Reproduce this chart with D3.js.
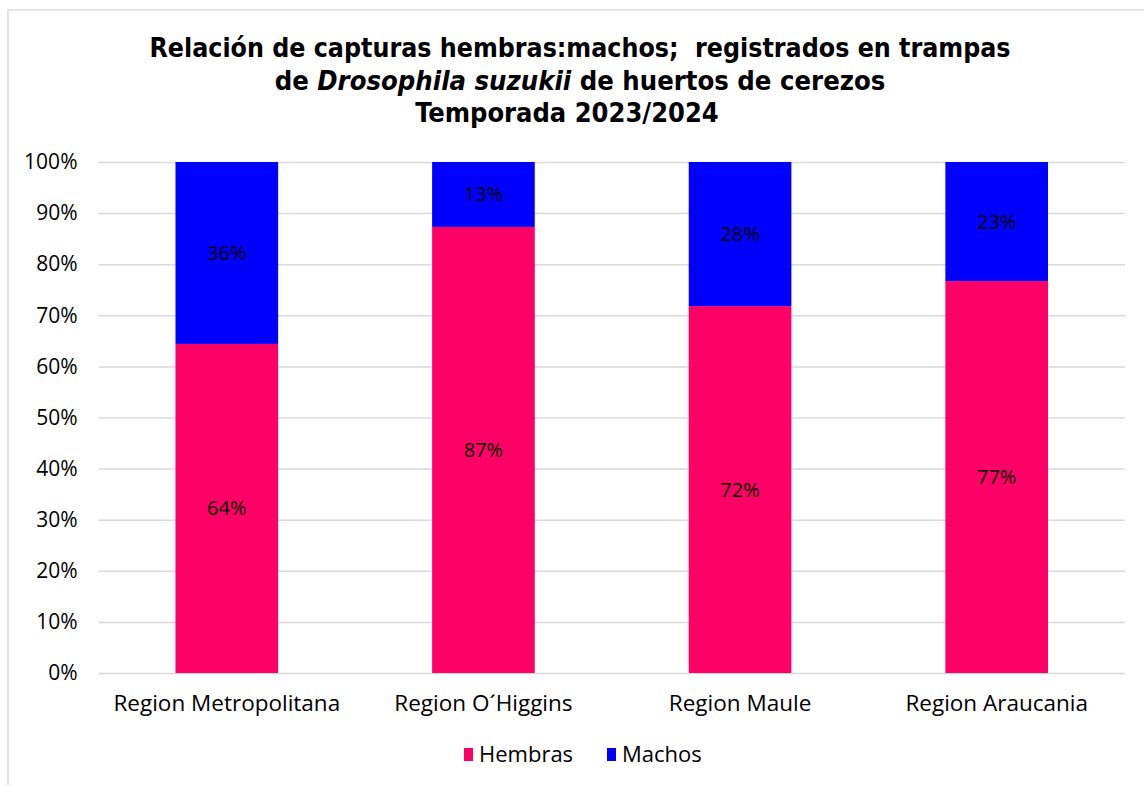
<html>
<head>
  <script src="https://d3js.org/d3.v7.min.js"></script>
  <style>
    body { margin: 0; background: #fff; }
    .title { font-family: "DejaVu Sans Condensed", "DejaVu Sans", sans-serif; font-weight: bold; fill: #000; white-space: pre; }
    .tick text, .cat, .lbl, .legend text { font-family: "Open Sans", "Noto Sans", sans-serif; fill: #000; }
    .gridlines line { stroke: #d9d9d9; stroke-width: 1.5; }
    .gridlines .domain { stroke: none; }
  </style>
</head>
<body>
<svg id="chart" width="1144" height="785"></svg>
<script>
  const regions = ["Region Metropolitana", "Region O\u00B4Higgins", "Region Maule", "Region Araucania"];
  const hembras = [64.4, 87.3, 71.8, 76.7];
  const machos = [35.6, 12.7, 28.2, 23.3];
  const hembrasLabels = ["64%", "87%", "72%", "77%"];
  const machosLabels = ["36%", "13%", "28%", "23%"];
  const yTicks = [0, 10, 20, 30, 40, 50, 60, 70, 80, 90, 100];
  const seriesNames = ["Hembras", "Machos"];
  const seriesColors = ["#ff0066", "#0000ff"];

  const svg = d3.select("svg#chart");
  const margin = {top: 162, left: 98.5, right: 19, bottom: 112};
  const width = 1144, height = 785;
  const chartWidth = width - margin.left - margin.right;
  const chartHeight = height - margin.top - margin.bottom;

  // outer border of the chart area
  svg.append("rect").attr("x", 8).attr("y", 10).attr("width", 1150).attr("height", 800)
     .attr("fill", "none").attr("stroke", "#d9d9d9").attr("stroke-width", 1.5);

  // title
  let title = svg.append("text").attr("class", "title").attr("text-anchor", "middle");
  title.append("tspan").attr("x", 580).attr("y", 57).style("font-size", "26.5px")
       .text("Relación de capturas hembras:machos;  registrados en trampas");
  let l2 = title.append("tspan").attr("x", 580).attr("y", 90).style("font-size", "27.2px");
  l2.append("tspan").text("de ");
  l2.append("tspan").style("font-style", "italic").text("Drosophila suzukii");
  l2.append("tspan").text(" de huertos de cerezos");
  title.append("tspan").attr("x", 567).attr("y", 122).style("font-size", "27px")
       .text("Temporada 2023/2024");

  const g = svg.append("g").attr("transform", "translate(" + margin.left + "," + margin.top + ")");

  const xScale = d3.scaleBand().domain(regions).range([0, chartWidth]).paddingInner(0.6).paddingOuter(0.3);
  const yScale = d3.scaleLinear().domain([0, 100]).range([chartHeight, 0]);

  g.append("g").attr("class", "gridlines")
   .call(d3.axisLeft(yScale).tickValues(yTicks).tickFormat("").tickSize(-chartWidth));

  let leftAxis = g.append("g")
   .call(d3.axisLeft(yScale).tickValues(yTicks).tickFormat(d => d + "%").tickSize(0).tickPadding(21));
  leftAxis.select(".domain").remove();
  leftAxis.selectAll("text").style("font-size", "21px");

  const stacked = regions.map((r, i) => ({region: r, h: hembras[i], m: machos[i], hl: hembrasLabels[i], ml: machosLabels[i]}));

  g.selectAll("rect.h").data(stacked).join("rect").attr("class", "h")
   .attr("x", d => xScale(d.region)).attr("width", xScale.bandwidth())
   .attr("y", d => yScale(d.h)).attr("height", d => yScale(0) - yScale(d.h))
   .attr("fill", seriesColors[0]);
  g.selectAll("rect.m").data(stacked).join("rect").attr("class", "m")
   .attr("x", d => xScale(d.region)).attr("width", xScale.bandwidth())
   .attr("y", d => yScale(d.h + d.m)).attr("height", d => yScale(d.h) - yScale(d.h + d.m))
   .attr("fill", seriesColors[1]);

  g.selectAll("text.lh").data(stacked).join("text").attr("class", "lbl")
   .attr("x", d => xScale(d.region) + xScale.bandwidth() / 2)
   .attr("y", d => yScale(d.h / 2)).attr("dy", "0.35em")
   .attr("text-anchor", "middle").style("font-size", "20px").text(d => d.hl);
  g.selectAll("text.lm").data(stacked).join("text").attr("class", "lbl")
   .attr("x", d => xScale(d.region) + xScale.bandwidth() / 2)
   .attr("y", d => yScale(d.h + d.m / 2)).attr("dy", "0.35em")
   .attr("text-anchor", "middle").style("font-size", "20px").text(d => d.ml);

  g.selectAll("text.cat").data(regions).join("text").attr("class", "cat")
   .attr("x", d => xScale(d) + xScale.bandwidth() / 2)
   .attr("y", chartHeight + 38).attr("text-anchor", "middle")
   .style("font-size", "22.5px").text(d => d);

  // legend
  const legend = svg.append("g").attr("class", "legend");
  const legendX = [464, 607];
  seriesNames.forEach((s, i) => {
    legend.append("rect").attr("x", legendX[i]).attr("y", 748).attr("width", 9).attr("height", 13)
          .attr("fill", seriesColors[i]);
    legend.append("text").attr("x", legendX[i] + 15).attr("y", 762)
          .style("font-size", "22px").text(s);
  });
</script>
</body>
</html>
